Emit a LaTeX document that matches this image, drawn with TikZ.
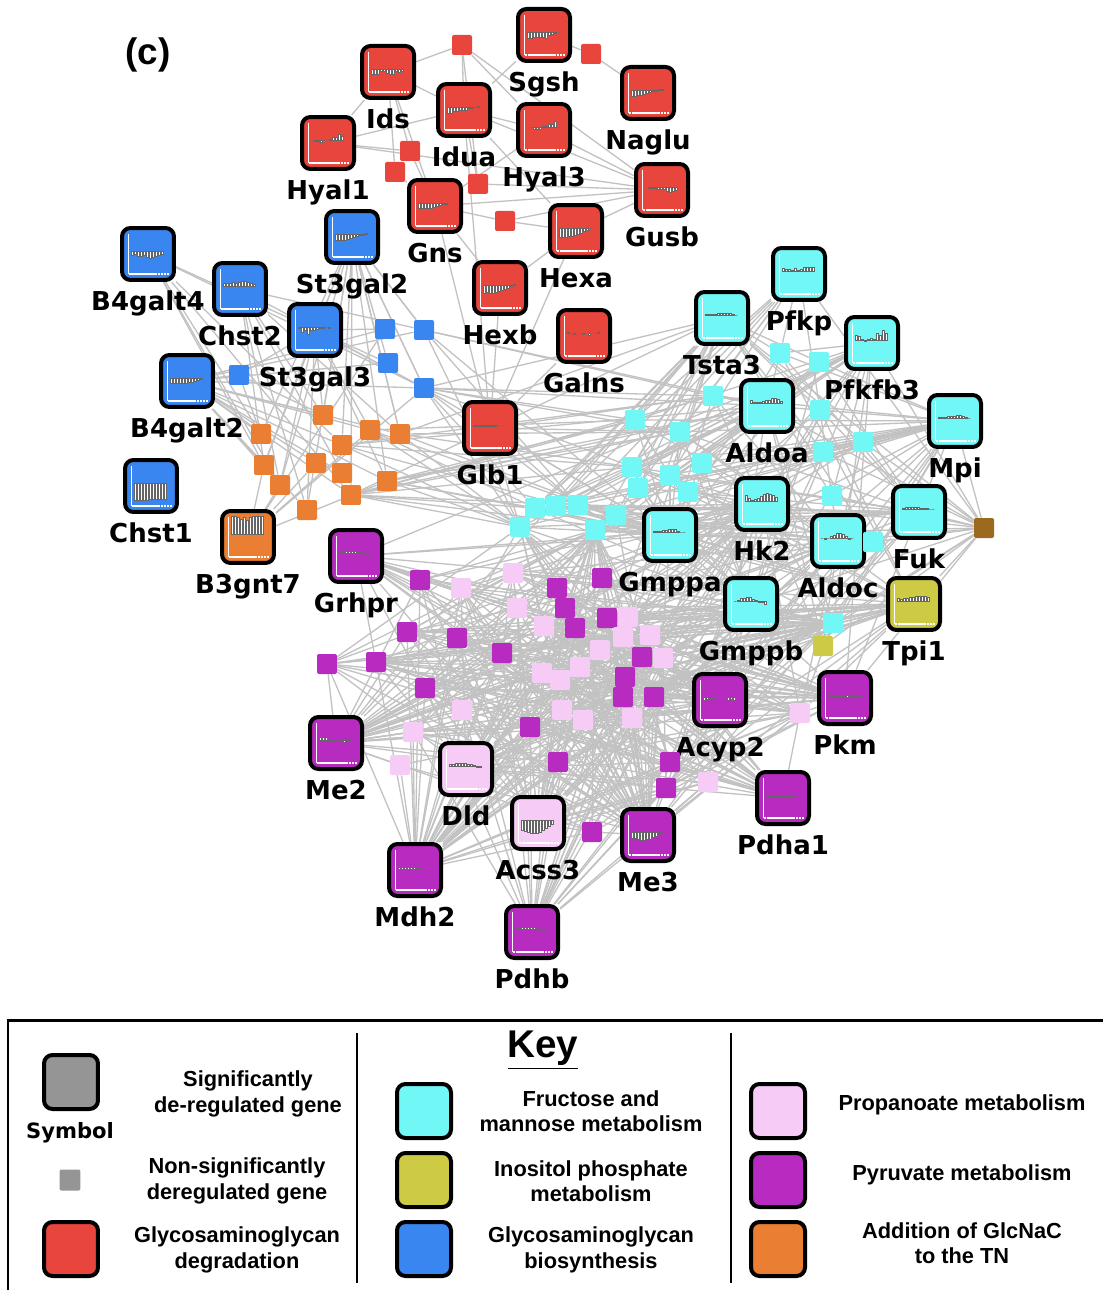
\documentclass[tikz,border=0pt]{standalone}
\usepackage{fontspec}
\newfontfamily\genefont{DejaVu Sans}
\newfontfamily\keyfont{Liberation Sans}
\usetikzlibrary{backgrounds}

% pathway colours
\definecolor{gagdeg}{HTML}{E8453C}
\definecolor{gagbio}{HTML}{3A86F0}
\definecolor{frumet}{HTML}{72F7F7}
\definecolor{inomet}{HTML}{CDCB44}
\definecolor{prometcol}{HTML}{F6CCF7}
\definecolor{pyrmet}{HTML}{B82BC0}
\definecolor{glcnac}{HTML}{EA7E32}
\definecolor{otherpw}{HTML}{9B6A1E}
\definecolor{symgray}{HTML}{959595}

\tikzset{
  gene/.style={draw=black, line width=0.08cm, rounded corners=0.17cm,
    minimum size=1.04cm, inner sep=0pt,
    path picture={
      \draw[white, line width=0.8pt]
        ([shift={(0.13cm,-0.12cm)}]path picture bounding box.north west)
        -- ([shift={(0.13cm,0.12cm)}]path picture bounding box.south west);
      \draw[white, line width=0.8pt, dash pattern=on 1.2pt off 0.5pt]
        ([shift={(0.13cm,0.12cm)}]path picture bounding box.south west)
        -- ([shift={(-0.09cm,0.12cm)}]path picture bounding box.south east);
    }},
  deg/.style={gene, fill=gagdeg},
  bio/.style={gene, fill=gagbio},
  fru/.style={gene, fill=frumet},
  ino/.style={gene, fill=inomet},
  pro/.style={gene, fill=prometcol},
  pyr/.style={gene, fill=pyrmet},
  glc/.style={gene, fill=glcnac},
  small/.style={rounded corners=0.04cm, minimum size=0.4cm, inner sep=0pt},
  lbl/.style={font=\genefont\bfseries\fontsize{14.8}{16}\selectfont, inner sep=2pt},
  bar/.style={fill=white, draw=black!60, line width=0.25pt},
  edge/.style={draw=gray!48, line width=0.75pt},
  keysym/.style={draw=black, line width=0.08cm, rounded corners=0.17cm,
    minimum size=1.08cm, inner sep=0pt},
  keytxt/.style={font=\keyfont\bfseries\fontsize{12.4}{14.4}\selectfont, align=center},
  every label/.style={label distance=3pt},
}

% expression profile inside a gene box
\newcommand\minibars[2]{%
  \foreach \h [count=\i] in {#2}
    \filldraw[bar] ([shift={(\i*0.06cm-0.40cm,0.06cm)}]#1.center) rectangle +(0.048cm,\h*0.02cm);
}
% links between two node lists, thinned by a fixed pattern
\newcommand\linkall[3]{%
  \foreach \a [count=\i] in #1 {
    \foreach \b [count=\j] in #2 {
      \pgfmathtruncatemacro\sel{mod(mod(3*\i*\i,10)+mod(7*\j*\j,10)+mod(\i*\j,10)+\i+2*\j,10)}
      \ifnum\sel<#3\relax \draw[edge] (\a) -- (\b);\fi
    }
  }
}

\def\bluehubs{B4galt4,Chst2,St3gal2,St3gal3,B4galt2,B3gnt7}
\def\orangesmall{o1,o2,o3,o4,o5,o6,o7,o8,o9,o10,o11,o12,b1,b2,b3,b4}
\def\cyanhubs{Pfkp,Tsta3,Pfkfb3,Aldoa,Mpi,Hk2,Gmppa,Aldoc,Fuk,Gmppb,Tpi1}
\def\cyansmall{c1,c2,c3,c4,c5,c6,c7,c8,c9,c10,c11,c12,c13,c14,c15,c16,c17,c18,c19,c20,c21,c22,i1}
\def\pyrhubs{Grhpr,Me2,Dld,Acss3,Mdh2,Pdhb,Me3,Pdha1,Pkm,Acyp2}
\def\pyrsmall{p1,p2,p3,p4,p5,p6,p7,p8,p9,p10,p11,p12,p13,p14,p15,p16,p17,p18,p19,p20,p21}
\def\prosmall{k1,k2,k3,k4,k5,k6,k7,k8,k9,k10,k11,k12,k13,k14,k15,k16,k17,k18,k19,k20}

\begin{document}
\begin{tikzpicture}[x=0.02cm, y=-0.02cm]
  \useasboundingbox (0,0) rectangle (1103,1290);

  \node[font=\keyfont\bfseries\fontsize{21}{24}\selectfont] (panel) at (148,55) {(c)};

  % glycosaminoglycan degradation
  \node[deg, label={[lbl]below:Sgsh}]  (Sgsh)  at (544,35)  {};
  \node[deg, label={[lbl]below:Ids}]   (Ids)   at (388,72)  {};
  \node[deg, label={[lbl]below:Naglu}] (Naglu) at (648,93)  {};
  \node[deg, label={[lbl]below:Idua}]  (Idua)  at (464,110) {};
  \node[deg, label={[lbl]below:Hyal3}] (Hyal3) at (544,130) {};
  \node[deg, label={[lbl]below:Hyal1}] (Hyal1) at (328,143) {};
  \node[deg, label={[lbl]below:Gusb}]  (Gusb)  at (662,190) {};
  \node[deg, label={[lbl]below:Gns}]   (Gns)   at (435,206) {};
  \node[deg, label={[lbl]below:Hexa}]  (Hexa)  at (576,231) {};
  \node[deg, label={[lbl]below:Hexb}]  (Hexb)  at (500,288) {};
  \node[deg, label={[lbl]below:Galns}] (Galns) at (584,336) {};
  \node[deg, label={[lbl]below:Glb1}]  (Glb1)  at (490,428) {};

  % glycosaminoglycan biosynthesis, GlcNAc
  \node[bio, label={[lbl]below:B4galt4}] (B4galt4) at (148,254) {};
  \node[bio, label={[lbl]below:St3gal2}] (St3gal2) at (352,237) {};
  \node[bio, label={[lbl]below:Chst2}]   (Chst2)   at (240,289) {};
  \node[bio, label={[lbl]below:St3gal3}] (St3gal3) at (315,330) {};
  \node[bio, label={[lbl]below:B4galt2}] (B4galt2) at (187,381) {};
  \node[bio, label={[lbl]below:Chst1}]   (Chst1)   at (151,486) {};
  \node[glc, label={[lbl]below:B3gnt7}]  (B3gnt7)  at (248,537) {};

  % fructose and mannose, inositol phosphate
  \node[fru, label={[lbl]below:Pfkp}]   (Pfkp)   at (799,274) {};
  \node[fru, label={[lbl]below:Tsta3}]  (Tsta3)  at (722,318) {};
  \node[fru, label={[lbl]below:Pfkfb3}] (Pfkfb3) at (872,343) {};
  \node[fru, label={[lbl]below:Aldoa}]  (Aldoa)  at (767,406) {};
  \node[fru, label={[lbl]below:Mpi}]    (Mpi)    at (955,421) {};
  \node[fru, label={[lbl]below:Hk2}]    (Hk2)    at (762,504) {};
  \node[fru, label={[lbl]below:Gmppa}]  (Gmppa)  at (670,535) {};
  \node[fru, label={[lbl]below:Aldoc}]  (Aldoc)  at (838,541) {};
  \node[fru, label={[lbl]below:Fuk}]    (Fuk)    at (919,512) {};
  \node[fru, label={[lbl]below:Gmppb}]  (Gmppb)  at (751,604) {};
  \node[ino, label={[lbl]below:Tpi1}]   (Tpi1)   at (914,604) {};

  % pyruvate and propanoate
  \node[pyr, label={[lbl]below:Grhpr}] (Grhpr) at (356,556) {};
  \node[pyr, label={[lbl]below:Acyp2}] (Acyp2) at (720,700) {};
  \node[pyr, label={[lbl]below:Pkm}]   (Pkm)   at (845,698) {};
  \node[pyr, label={[lbl]below:Me2}]   (Me2)   at (336,743) {};
  \node[pyr, label={[lbl]below:Pdha1}] (Pdha1) at (783,798) {};
  \node[pyr, label={[lbl]below:Me3}]   (Me3)   at (648,835) {};
  \node[pyr, label={[lbl]below:Mdh2}]  (Mdh2)  at (415,870) {};
  \node[pyr, label={[lbl]below:Pdhb}]  (Pdhb)  at (532,932) {};
  \node[pro, label={[lbl]below:Dld}]   (Dld)   at (466,769) {};
  \node[pro, label={[lbl]below:Acss3}] (Acss3) at (538,823) {};

  % profiles
  \minibars{Sgsh}{-6,-6,-5,-5,-5,-5,-6,-3,-2,-1,0}
  \minibars{Ids}{-5,-5,-5,-2,-2,-4,-5,-5,-2,-3,-2}
  \minibars{Naglu}{-6,-6,-5,-5,-4,-3,-2,-1,-1,1,1}
  \minibars{Idua}{-6,-6,-4,-4,-3,-3,-3,-1,-1,0,1}
  \minibars{Hyal3}{0,0,-2,-2,-2,1,1,3,3,6,0}
  \minibars{Hyal1}{0,-1,-1,-2,0,0,1,3,3,6,4}
  \minibars{Gusb}{0,-1,-1,-1,-2,-2,-2,-4,-5,-4,-3}
  \minibars{Gns}{-5,-5,-5,-5,-5,-4,-3,-2,-1,-1,0}
  \minibars{Hexa}{-9,-9,-9,-8,-8,-7,-6,-5,-3,-2,0}
  \minibars{Hexb}{-8,-7,-8,-8,-7,-6,-5,-4,-3,-1,1}
  \minibars{Galns}{1,0,-1,0,0,-1,0,-2,0,0,1}
  \minibars{Glb1}{-1,-1,-1,-1,-1,-1,-1,-1,0,0,0}
  \minibars{B4galt4}{-4,-3,-5,-5,-4,-6,-7,-6,-5,-4,-3}
  \minibars{St3gal2}{-6,-6,-6,-6,-5,-4,-3,-2,-1,-1,1}
  \minibars{Chst2}{3,3,3,4,3,4,5,5,4,3,2}
  \minibars{St3gal3}{-1,-5,-3,-7,-3,-3,-2,-1,-1,0,-1}
  \minibars{B4galt2}{-5,-5,-5,-5,-5,-5,-4,-4,-3,-2,-1}
  \minibars{Chst1}{-17,-17,-17,-17,-17,-16,-16,-16,-16,-16,-16}
  \minibars{B3gnt7}{18,18,17,15,17,14,17,18,18,18,18}
  \minibars{Grhpr}{1,1,2,2,2,2,1,1,0,-1,0}
  \minibars{Pfkp}{3,2,2,1,3,1,2,4,4,4,4}
  \minibars{Tsta3}{1,1,1,1,2,2,2,2,2,1,0}
  \minibars{Pfkfb3}{5,4,1,-1,1,2,1,7,5,10,7}
  \minibars{Aldoa}{3,1,1,1,2,3,3,5,5,4,2}
  \minibars{Mpi}{1,1,1,2,2,2,3,3,2,1,0}
  \minibars{Hk2}{6,3,1,2,3,5,7,8,7,6,4}
  \minibars{Gmppa}{1,1,1,2,2,3,3,3,1,0,0}
  \minibars{Aldoc}{0,-1,0,2,3,5,5,4,2,-1,0}
  \minibars{Fuk}{1,2,2,2,2,2,1,1,1,0,0}
  \minibars{Gmppb}{0,1,3,3,4,4,2,1,-1,-1,-3}
  \minibars{Tpi1}{3,2,3,3,4,4,5,5,5,5,4}
  \minibars{Acyp2}{-3,-2,-1,-1,0,0,0,0,-3,-2,-3}
  \minibars{Pkm}{-1,-1,-1,-1,-1,-1,-2,-1,-1,-1,-1}
  \minibars{Me2}{3,3,3,1,1,0,-1,-1,-2,-1,-1}
  \minibars{Pdha1}{-1,-1,-1,-1,-1,-1,-1,-1,-1,-1,0}
  \minibars{Me3}{-6,-6,-7,-8,-8,-7,-7,-5,-4,-1,1}
  \minibars{Mdh2}{-2,-2,-2,-2,-2,-2,-1,-1,0,0,0}
  \minibars{Pdhb}{1,1,2,2,2,2,2,1,0,-1,0}
  \minibars{Dld}{2,2,3,3,3,3,2,2,1,-1,-1}
  \minibars{Acss3}{-10,-11,-12,-13,-13,-13,-12,-10,-8,-6,-4}

  % non-significant genes
  \foreach \n/\x/\y in {1/462/45, 2/591/54, 3/410/151, 4/395/172, 5/478/184, 6/505/221}
    \node[small, fill=gagdeg] (r\n) at (\x,\y) {};
  \foreach \n/\x/\y in {1/385/329, 2/424/330, 3/388/363, 4/424/388, 5/239/375}
    \node[small, fill=gagbio] (b\n) at (\x,\y) {};
  \foreach \n/\x/\y in {1/261/434, 2/323/415, 3/370/430, 4/400/434, 5/342/445, 6/264/465,
                        7/316/463, 8/342/473, 9/387/481, 10/280/485, 11/351/495, 12/307/510}
    \node[small, fill=glcnac] (o\n) at (\x,\y) {};
  \foreach \n/\x/\y in {1/780/353, 2/819/362, 3/713/396, 4/635/420, 5/680/432, 6/820/410,
                        7/863/442, 8/823/452, 9/702/463, 10/632/467, 11/670/475, 12/638/488,
                        13/688/492, 14/832/496, 15/578/505, 16/616/515, 17/595/530, 18/873/542,
                        19/833/623, 20/535/508, 21/556/506, 22/520/527}
    \node[small, fill=frumet] (c\n) at (\x,\y) {};
  \foreach \n/\x/\y in {1/420/580, 2/407/632, 3/457/638, 4/327/664, 5/376/662, 6/425/688,
                        7/502/653, 8/557/588, 9/565/608, 10/575/628, 11/602/578, 12/607/618,
                        13/642/657, 14/625/677, 15/623/697, 16/654/697, 17/530/727, 18/558/762,
                        19/670/762, 20/666/788, 21/592/832}
    \node[small, fill=pyrmet] (p\n) at (\x,\y) {};
  \foreach \n/\x/\y in {1/461/588, 2/513/573, 3/517/608, 4/544/626, 5/628/617, 6/623/637,
                        7/650/635, 8/600/650, 9/580/667, 10/663/658, 11/542/673, 12/560/680,
                        13/462/710, 14/562/710, 15/583/720, 16/632/718, 17/413/732, 18/400/765,
                        19/708/782, 20/800/713}
    \node[small, fill=prometcol] (k\n) at (\x,\y) {};
  \node[small, fill=inomet]  (i1) at (823,646) {};
  \node[small, fill=otherpw] (f1) at (984,528) {};

  \begin{scope}[on background layer]
    \foreach \a/\b in {r1/Ids, r1/Idua, r1/Hyal3, r1/r5, r1/Gusb, Sgsh/Idua, Sgsh/r2, r2/Naglu,
                       Ids/Hyal1, Ids/Idua, Ids/r3, Ids/r4, Ids/Gns, Hyal1/Idua, Hyal1/r3,
                       Hyal1/Gusb, Idua/Hyal3, Idua/Gusb, Idua/Hexa, Idua/r5, Hyal3/Gusb,
                       Hyal3/Gns, Gusb/Gns, Gusb/r5, Gusb/r6, Gusb/Hexa, Gns/r6, r6/Hexa,
                       Gns/Hexb, Gns/Glb1, Hexa/Hexb, Hexa/Glb1, Hexb/Glb1, Galns/Glb1,
                       Idua/Glb1, r4/Gns, r3/Gns, b5/B4galt2, b5/St3gal3, b5/o1, b5/o2}
      \draw[edge] (\a) -- (\b);
    \linkall{\bluehubs}{\orangesmall}{5}
    \linkall{{Glb1,St3gal2}}{\orangesmall}{4}
    \linkall{{o3,o4,o9,o5,o11,b2,b4,Glb1}}{{c4,c10,c3,c5,c20,c22,c15,Tsta3,Aldoa,Gmppa}}{5}
    \linkall{\cyanhubs}{\cyansmall}{6}
    \linkall{{f1}}{\cyanhubs}{10}
    \linkall{{f1}}{{c7,c14,c18,c8,c19,i1,Pkm,Acyp2}}{10}
    \linkall{\cyanhubs}{\pyrhubs}{3}
    \linkall{\pyrhubs}{\pyrsmall}{6}
    \linkall{\pyrhubs}{\prosmall}{6}
    \linkall{\pyrsmall}{\prosmall}{2}
    \linkall{{Gmppa,Gmppb,Hk2,Aldoc,Tpi1,c16,c17,c22,c19}}{\pyrsmall}{3}
    \linkall{{Gmppa,Gmppb,Hk2,Aldoc,Tpi1,c16,c17,c22,c19}}{\prosmall}{3}
  \end{scope}

  % key
  \draw[line width=0.06cm] (8,1290) -- (8,1020) -- (1103,1020);
  \draw[line width=1pt] (357,1033) -- (357,1283);
  \draw[line width=1pt] (731,1033) -- (731,1283);
  \node[font=\keyfont\bfseries\fontsize{22}{24}\selectfont] (keytitle) at (543,1050) {\underline{Key}};

  \node[keysym, fill=symgray] (ksig) at (71,1082) {};
  \node[font=\genefont\bfseries\fontsize{12}{14}\selectfont] (ksym) at (70,1133) {Symbol};
  \node[small, fill=symgray, minimum size=0.42cm] (knon) at (70,1180) {};
  \node[keysym, fill=gagdeg] (kdeg) at (71,1249) {};
  \node[keytxt] at (248,1094) {Significantly\\de-regulated gene};
  \node[keytxt] at (237,1181) {Non-significantly\\deregulated gene};
  \node[keytxt] at (237,1250) {Glycosaminoglycan\\degradation};

  \node[keysym, fill=frumet] (kfru) at (424,1111) {};
  \node[keysym, fill=inomet] (kino) at (424,1180) {};
  \node[keysym, fill=gagbio] (kbio) at (424,1249) {};
  \node[keytxt] at (591,1111) {Fructose and\\mannose metabolism};
  \node[keytxt] at (591,1181) {Inositol phosphate\\metabolism};
  \node[keytxt] at (591,1250) {Glycosaminoglycan\\biosynthesis};

  \node[keysym, fill=prometcol] (kpro) at (778,1111) {};
  \node[keysym, fill=pyrmet] (kpyr) at (778,1180) {};
  \node[keysym, fill=glcnac] (kglc) at (778,1249) {};
  \node[keytxt] at (962,1105) {Propanoate metabolism};
  \node[keytxt] at (962,1175) {Pyruvate metabolism};
  \node[keytxt] at (962,1243) {Addition of GlcNaC\\to the TN};
\end{tikzpicture}
\end{document}
